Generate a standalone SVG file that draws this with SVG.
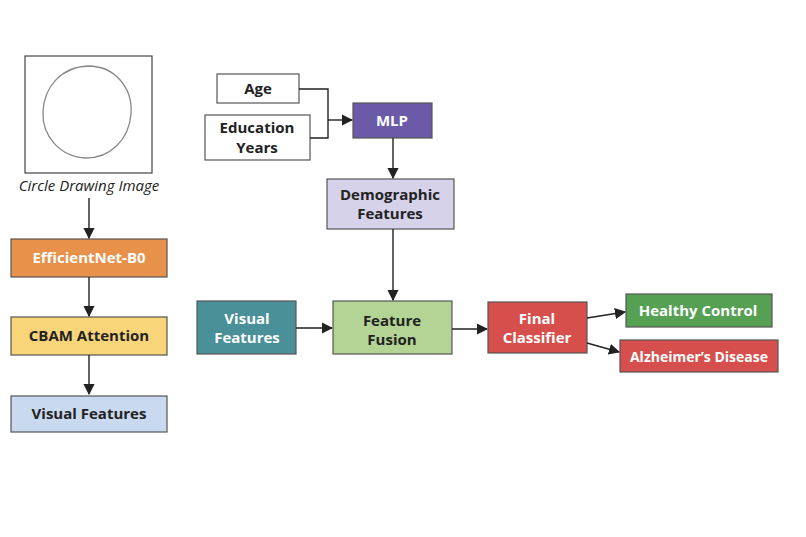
<svg xmlns="http://www.w3.org/2000/svg" width="806" height="537" viewBox="0 0 806 537">
<style>
text{font-family:"Open Sans","Noto Sans",sans-serif;font-size:15px;font-weight:bold;text-anchor:middle;fill:#222}
.w{fill:#fff}
.b{stroke:#555;stroke-width:1.2}
.c{fill:none;stroke:#222;stroke-width:1.4}
</style>
<defs><marker id="a" viewBox="0 0 10 10" refX="9" refY="5" markerWidth="8" markerHeight="8" orient="auto"><path d="M0,0L10,5L0,10z" fill="#222"/></marker></defs>
<rect width="806" height="537" fill="#fff"/>
<g id="image"><rect x="25" y="56" width="127" height="117" fill="#fff" stroke="#444" stroke-width="1.2"/>
<path d="M88,66 C115,66 133,88 131,114 C129,140 110,158 86,158 C60,157 42,136 43,112 C44,86 62,67 88,66Z" fill="none" stroke="#888" stroke-width="1.3"/>
<text x="89" y="191" style="font-weight:normal;font-style:italic;font-size:15px">Circle Drawing Image</text></g>
<g id="effnet"><rect class="b" x="11" y="239" width="156" height="38" fill="#e8914a"/><text class="w" x="89" y="263">EfficientNet-B0</text></g>
<g id="cbam"><rect class="b" x="11" y="317" width="156" height="38" fill="#f9d57a"/><text x="89" y="341">CBAM Attention</text></g>
<g id="vis1"><rect class="b" x="11" y="396" width="156" height="36" fill="#c9d9ef"/><text x="89" y="419">Visual Features</text></g>
<g id="age"><rect class="b" x="217" y="74" width="82" height="29" fill="#fff"/><text x="258" y="94">Age</text></g>
<g id="edu"><rect class="b" x="205" y="115" width="105" height="45" fill="#fff"/><text x="257" y="133">Education</text><text x="257" y="153">Years</text></g>
<g id="mlp"><rect class="b" x="353" y="103" width="79" height="35" fill="#6a5aa8"/><text class="w" x="392" y="126">MLP</text></g>
<g id="demo"><rect class="b" x="327" y="179" width="127" height="50" fill="#d5d2ea"/><text x="390" y="200">Demographic</text><text x="390" y="219">Features</text></g>
<g id="vis2"><rect class="b" x="197" y="301" width="99" height="53" fill="#4a9098"/><text class="w" x="247" y="324">Visual</text><text class="w" x="247" y="343">Features</text></g>
<g id="fusion"><rect class="b" x="333" y="301" width="119" height="53" fill="#b3d495"/><text x="392" y="326">Feature</text><text x="392" y="345">Fusion</text></g>
<g id="final"><rect class="b" x="488" y="302" width="99" height="51" fill="#d64f4c"/><text class="w" x="537" y="324">Final</text><text class="w" x="537" y="343">Classifier</text></g>
<g id="hc"><rect class="b" x="626" y="294" width="146" height="33" fill="#55a052"/><text class="w" x="698" y="316">Healthy Control</text></g>
<g id="ad"><rect class="b" x="620" y="340" width="158" height="32" fill="#d64f4c"/><text class="w" x="699" y="362" style="font-size:14px">Alzheimer’s Disease</text></g>
<g id="connectors">
<path class="c" d="M89,198V238" marker-end="url(#a)"/>
<path class="c" d="M89,277V316" marker-end="url(#a)"/>
<path class="c" d="M89,355V394" marker-end="url(#a)"/>
<path class="c" d="M299,89H328V138H310"/>
<path class="c" d="M328,120H352" marker-end="url(#a)"/>
<path class="c" d="M393,138V178" marker-end="url(#a)"/>
<path class="c" d="M393,229V300" marker-end="url(#a)"/>
<path class="c" d="M296,328H332" marker-end="url(#a)"/>
<path class="c" d="M452,329H487" marker-end="url(#a)"/>
<path class="c" d="M587,318L625,312" marker-end="url(#a)"/>
<path class="c" d="M587,343L619,352" marker-end="url(#a)"/>
</g>
</svg>
